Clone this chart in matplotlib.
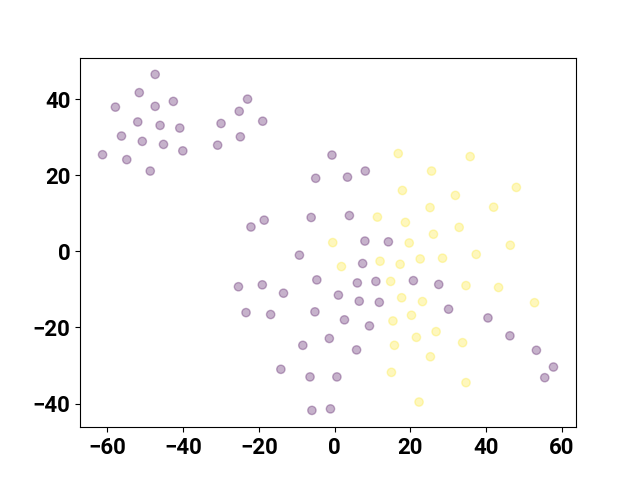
import matplotlib
matplotlib.use('Agg')
import matplotlib.pyplot as plt
import numpy as np

# cluster 0 (purple)
x0 = [-47.4, -51.6, -57.9, -47.4, -42.6, -52.0, -46.1, -40.9, -56.3, -50.8,
      -45.2, -40.1, -61.3, -54.9, -48.7, -30.0, -25.2, -23.0, -19.0, -24.9,
      -30.9, -0.7, -5.0, 3.4, 8.1, -6.2, 3.9, -18.6, -22.1, 8.0,
      -9.3, 7.4, -4.7, 6.0, 10.9, -25.4, -19.1, 14.2, 20.8, 27.5,
      1.0, 6.5, 11.8, 30.1, -5.2, 2.6, 9.2, 40.5, 46.3, -8.4,
      -1.4, 5.8, 53.3, 57.8, 55.5, -6.5, 0.6, -6.0, -1.1, -13.5,
      -23.4, -16.9, -14.2]
y0 = [46.5, 41.7, 37.9, 38.1, 39.4, 34.0, 33.1, 32.4, 30.3, 28.9,
      28.1, 26.4, 25.4, 24.1, 21.1, 33.6, 36.8, 40.0, 34.2, 30.1,
      27.9, 25.3, 19.2, 19.5, 21.1, 8.9, 9.4, 8.2, 6.4, 2.7,
      -1.0, -3.2, -7.5, -8.3, -7.9, -9.3, -8.8, 2.5, -7.7, -8.7,
      -11.5, -13.1, -13.4, -15.2, -15.9, -18.0, -19.6, -17.5, -22.2, -24.7,
      -22.9, -25.9, -26.0, -30.4, -33.2, -33.0, -33.0, -41.8, -41.4, -11.0,
      -16.1, -16.6, -31.0]

# cluster 1 (yellow)
x1 = [16.8, 35.8, 25.6, 17.9, 31.9, 48.0, 25.2, 42.0, 11.3, 18.7,
      32.9, 26.1, -0.5, 19.7, 46.4, 37.4, 1.8, 12.0, 17.3, 22.6,
      28.5, 14.8, 34.7, 43.3, 17.7, 23.2, 52.8, 15.4, 20.3, 26.8,
      21.6, 33.8, 15.8, 25.3, 15.0, 34.7, 22.3]
y1 = [25.7, 24.9, 21.1, 16.0, 14.7, 16.8, 11.5, 11.6, 9.0, 7.6,
      6.3, 4.5, 2.3, 2.2, 1.6, -0.8, -4.0, -2.6, -3.4, -2.0,
      -1.8, -7.9, -9.0, -9.5, -12.2, -13.2, -13.5, -18.3, -16.8, -21.1,
      -22.6, -24.0, -24.7, -27.7, -31.8, -34.5, -39.6]

x = np.array(x0 + x1)
y = np.array(y0 + y1)
labels = np.array([0] * len(x0) + [1] * len(x1))

plt.rcParams['font.family'] = ['Roboto', 'DejaVu Sans']
plt.rcParams['font.weight'] = 'bold'

fig = plt.figure(figsize=(6.4, 4.8), dpi=100)
plt.scatter(x, y, c=labels, cmap='viridis', alpha=0.3)
plt.xticks(fontsize=16, fontweight='bold')
plt.yticks(fontsize=16, fontweight='bold')
plt.savefig('out.png')
